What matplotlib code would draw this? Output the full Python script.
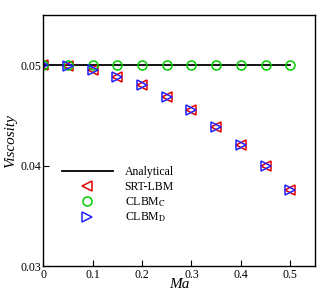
import numpy as np
import matplotlib
matplotlib.use('Agg')
import matplotlib.pyplot as plt

plt.rcParams['font.family'] = ['Liberation Serif', 'DejaVu Serif']
plt.rcParams['mathtext.fontset'] = 'stix'

# data
ma = [0, 0.05, 0.1, 0.15, 0.2, 0.25, 0.3, 0.35, 0.4, 0.45, 0.5]
analytical = [0.05] * len(ma)
srt_lbm = [0.05, 0.04993, 0.0495, 0.04884, 0.04799, 0.04686, 0.04551, 0.04389, 0.04205, 0.03993, 0.03762]
clbm_c = [0.05] * len(ma)
clbm_d = [0.05, 0.04993, 0.0495, 0.04884, 0.04799, 0.04686, 0.04551, 0.04389, 0.04205, 0.03993, 0.03762]

fig = plt.figure(figsize=(3.32, 2.96), dpi=100)
ax = fig.add_axes([0.13, 0.101, 0.819, 0.848])

ax.plot(ma, analytical, color='black', linewidth=1.3, label='Analytical')
ax.plot(ma, srt_lbm, linestyle='none', marker='<', markersize=6.5, markerfacecolor='none',
        markeredgecolor='#e00000', markeredgewidth=1.1, label='SRT-LBM')
ax.plot(ma, clbm_c, linestyle='none', marker='o', markersize=6.5, markerfacecolor='none',
        markeredgecolor='#00cc00', markeredgewidth=1.1, label='CLBM$_\\mathrm{C}$')
ax.plot(ma, clbm_d, linestyle='none', marker='>', markersize=6.5, markerfacecolor='none',
        markeredgecolor='#2020ff', markeredgewidth=1.1, label='CLBM$_\\mathrm{D}$')

ax.set_xlim(0, 0.55)
ax.set_ylim(0.03, 0.055)
ax.set_xticks([0, 0.1, 0.2, 0.3, 0.4, 0.5])
ax.set_xticklabels(['0', '0.1', '0.2', '0.3', '0.4', '0.5'])
ax.set_yticks([0.03, 0.04, 0.05])
ax.set_yticklabels(['0.03', '0.04', '0.05'])
ax.tick_params(direction='in', length=4, labelsize=8.5)
ax.tick_params(axis='x', pad=2)
ax.tick_params(axis='y', pad=1.5)
for s in ax.spines.values():
    s.set_linewidth(1)

ax.set_xlabel('Ma', fontsize=11, fontstyle='italic', labelpad=-2)
ax.set_ylabel('Viscosity', fontsize=11, fontstyle='italic', labelpad=2)

ax.legend(loc='upper left', bbox_to_anchor=(0.03, 0.44), frameon=False, fontsize=8.5,
          handlelength=4.3, labelspacing=0.2, handletextpad=1.0)

fig.savefig('out.png', dpi=100)
